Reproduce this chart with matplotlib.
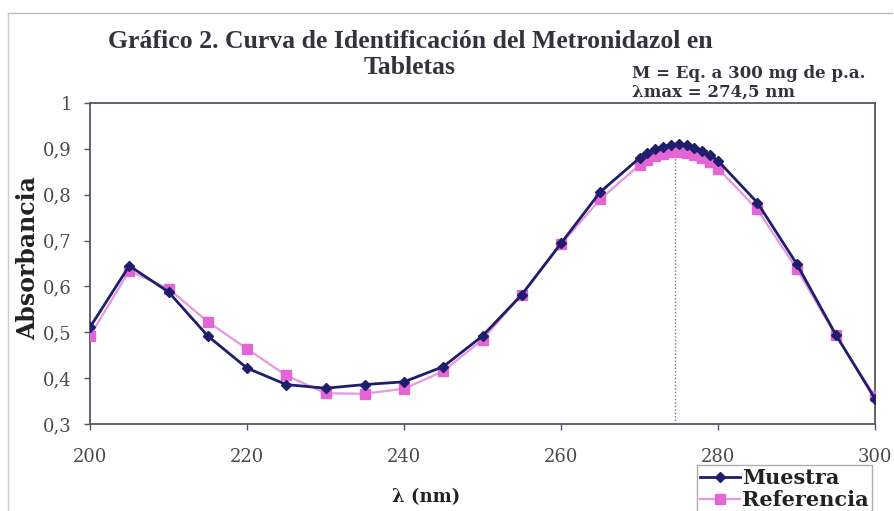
import matplotlib
matplotlib.use("Agg")
import matplotlib.pyplot as plt
from matplotlib.ticker import FuncFormatter, MultipleLocator

# Wavelengths (nm)
wavelength = [200, 205, 210, 215, 220, 225, 230, 235, 240, 245, 250, 255, 260, 265,
              270, 271, 272, 273, 274, 275, 276, 277, 278, 279, 280,
              285, 290, 295, 300]
muestra = [0.511, 0.645, 0.588, 0.492, 0.422, 0.386, 0.378, 0.386, 0.392, 0.425, 0.492, 0.582, 0.694, 0.806,
           0.880, 0.892, 0.900, 0.905, 0.909, 0.911, 0.908, 0.902, 0.895, 0.886, 0.874,
           0.783, 0.650, 0.495, 0.355]
referencia = [0.492, 0.634, 0.595, 0.523, 0.464, 0.406, 0.367, 0.366, 0.377, 0.415, 0.484, 0.582, 0.692, 0.790,
              0.865, 0.876, 0.884, 0.889, 0.893, 0.894, 0.892, 0.887, 0.880, 0.871, 0.857,
              0.768, 0.639, 0.493, 0.360]

lambda_max = 274.5
title_line1 = "Gráfico 2. Curva de Identificación del Metronidazol en"
title_line2 = "Tabletas"
note1 = "M = Eq. a 300 mg de p.a."
note2 = "λmax = 274,5 nm"

plt.rcParams["font.family"] = ["DejaVu Serif"]
title_font = ["Liberation Serif", "DejaVu Serif"]

W, H = 894, 511
fig = plt.figure(figsize=(W / 100, H / 100), dpi=100)
L, R, T, B = 90, 875, 103, 424
ax = fig.add_axes([L / W, 1 - B / H, (R - L) / W, (B - T) / H])

navy = "#1e1e6c"
pink = "#e466d6"

ax.plot(wavelength, muestra, color=navy, lw=2.0, marker="D", ms=5.5,
        markerfacecolor=navy, markeredgecolor=navy, label="Muestra", zorder=4)
ax.plot(wavelength, referencia, color="#e898de", lw=1.6, marker="s", ms=6.5,
        markerfacecolor=pink, markeredgecolor=pink, label="Referencia", zorder=3)

ax.plot([lambda_max, lambda_max], [0.3, max(muestra)], color="#777777", lw=1.0,
        ls=(0, (1, 1.5)), zorder=2)

ax.set_xlim(200, 300)
ax.set_ylim(0.3, 1.0)
ax.xaxis.set_major_locator(MultipleLocator(20))
ax.yaxis.set_major_locator(MultipleLocator(0.1))


def ycomma(v, pos):
    if abs(v - 1) < 1e-9:
        return "1"
    return f"{v:.1f}".replace(".", ",")


ax.yaxis.set_major_formatter(FuncFormatter(ycomma))
ax.tick_params(axis="both", labelsize=13, colors="#555555", direction="out", length=4, width=1)
ax.tick_params(axis="x", pad=13)
ax.tick_params(axis="y", pad=9)
for lab in ax.get_xticklabels() + ax.get_yticklabels():
    lab.set_color("#4a4a4a")
for s in ax.spines.values():
    s.set_color("#555566")
    s.set_linewidth(1.3)

fig.text(28 / W, 1 - 258 / H, "Absorbancia", ha="center", va="center", rotation=90,
         fontsize=17, fontweight="bold", color="#222222")

fig.text(426 / W, 1 - 497 / H, "λ (nm)", ha="center", va="center", fontsize=13,
         fontweight="bold", color="#222222")

fig.text(410 / W, 1 - 41 / H, title_line1, ha="center", va="center", fontsize=18.5,
         fontweight="bold", color="#333340", family=title_font)
fig.text(410 / W, 1 - 68 / H, title_line2, ha="center", va="center", fontsize=18.5,
         fontweight="bold", color="#333340", family=title_font)
fig.text(632 / W, 1 - 73 / H, note1, ha="left", va="center", fontsize=12,
         fontweight="bold", color="#333340")
fig.text(632 / W, 1 - 92 / H, note2, ha="left", va="center", fontsize=12,
         fontweight="bold", color="#333340")

leg = fig.legend(loc="upper left", bbox_to_anchor=(697 / W, 1 - 465 / H), fontsize=15,
                 frameon=True, fancybox=False, borderpad=0.15, borderaxespad=0,
                 handlelength=1.9, handletextpad=0.1, labelspacing=0.1)
leg.get_frame().set_edgecolor("#999999")
leg.get_frame().set_linewidth(1.0)
for t in leg.get_texts():
    t.set_fontweight("bold")
    t.set_color("#222222")

# chart-area border (top and left edges)
fig.add_artist(plt.Line2D([8 / W, 0.998], [1 - 13 / H, 1 - 13 / H], color="#bbbbbb", lw=1.0))
fig.add_artist(plt.Line2D([8 / W, 8 / W], [0, 1 - 13 / H], color="#cccccc", lw=1.0))

fig.savefig("out.png", dpi=100)
